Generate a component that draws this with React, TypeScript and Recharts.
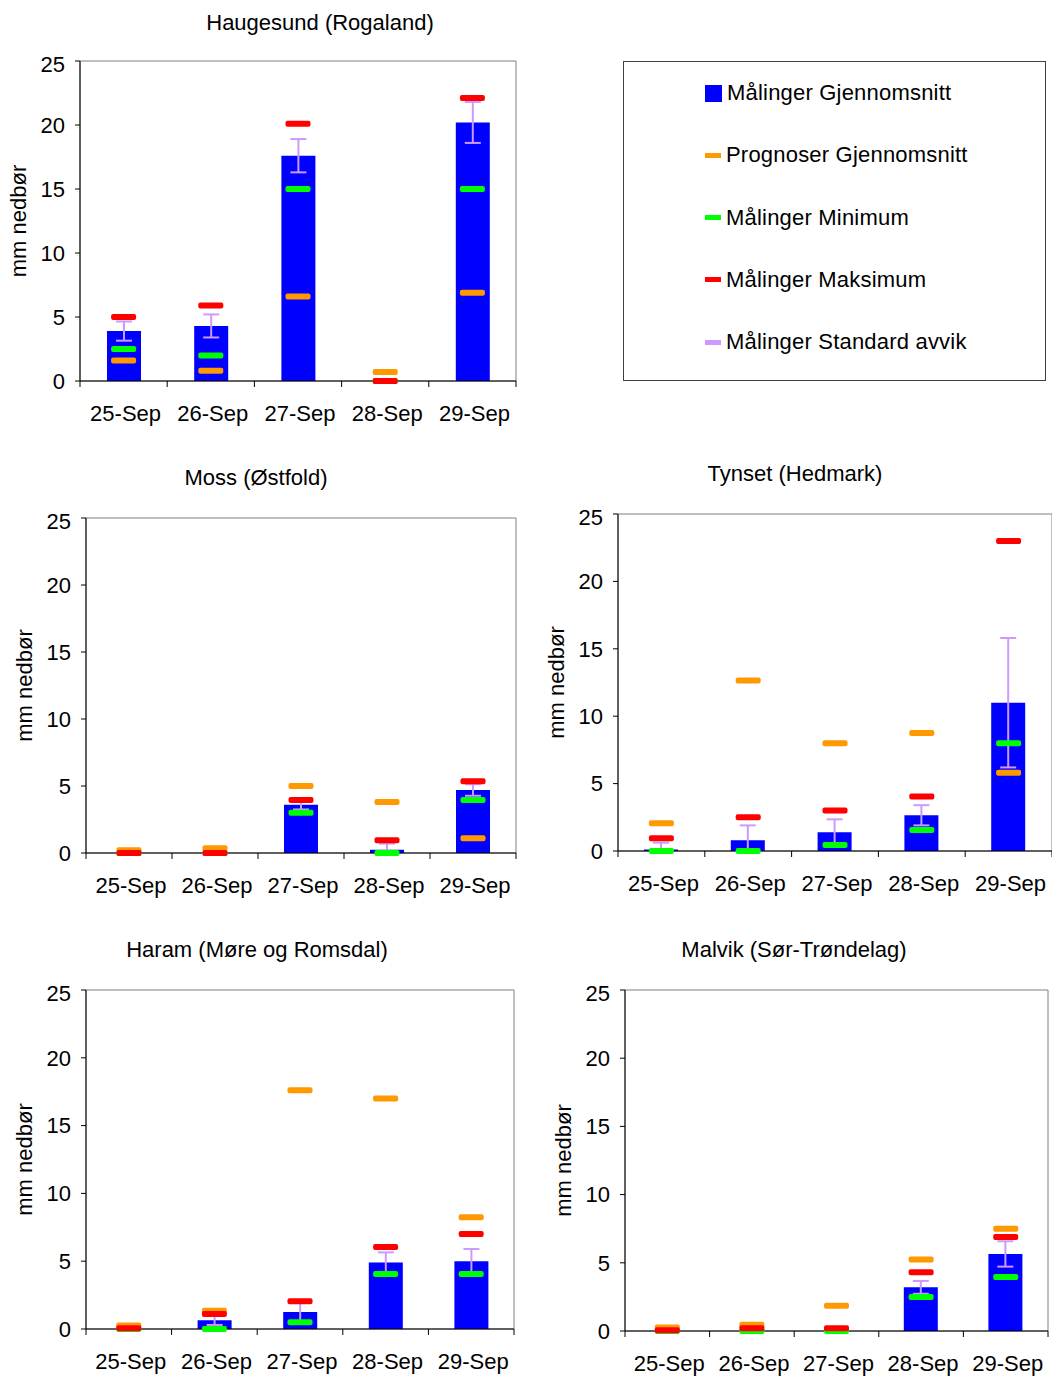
import { ComposedChart, Bar, ErrorBar, Scatter, XAxis, YAxis, ReferenceArea } from "recharts";

const days = ["25-Sep", "26-Sep", "27-Sep", "28-Sep", "29-Sep"];
const yTicks = [0, 5, 10, 15, 20, 25];

// Haugesund (Rogaland)
const haugesundMean = [3.9, 4.3, 17.6, 0, 20.2];
const haugesundFcst = [1.6, 0.8, 6.6, 0.7, 6.9];
const haugesundMin = [2.5, 2.0, 15.0, 0, 15.0];
const haugesundMax = [5.0, 5.9, 20.1, 0, 22.1];
const haugesundStd = [0.75, 0.9, 1.3, null, 1.6];

// Moss (Østfold)
const mossMean = [0, 0, 3.6, 0.25, 4.7];
const mossFcst = [0.2, 0.35, 5.0, 3.8, 1.1];
const mossMin = [0, 0, 3.0, 0, 3.95];
const mossMax = [0, 0, 3.95, 0.95, 5.35];
const mossStd = [null, null, 0.35, 0.45, 0.43];

// Tynset (Hedmark)
const tynsetMean = [0.12, 0.8, 1.4, 2.65, 11.0];
const tynsetFcst = [2.05, 12.65, 8.0, 8.75, 5.8];
const tynsetMin = [0, 0, 0.45, 1.55, 8.0];
const tynsetMax = [0.95, 2.5, 3.0, 4.05, 23.0];
const tynsetStd = [0.5, 1.1, 0.95, 0.75, 4.8];

// Haram (Møre og Romsdal)
const haramMean = [0, 0.65, 1.25, 4.9, 5.0];
const haramFcst = [0.25, 1.35, 17.6, 17.0, 8.25];
const haramMin = [0, 0, 0.5, 4.05, 4.05];
const haramMax = [0.05, 1.1, 2.05, 6.05, 7.0];
const haramStd = [null, 0.35, 0.7, 0.75, 0.9];

// Malvik (Sør-Trøndelag)
const malvikMean = [0, 0, 0, 3.2, 5.65];
const malvikFcst = [0.25, 0.45, 1.85, 5.25, 7.5];
const malvikMin = [0, 0, 0, 2.5, 3.95];
const malvikMax = [0.05, 0.2, 0.2, 4.3, 6.9];
const malvikStd = [null, null, null, 0.47, 0.93];

const BLUE = "#0000FF";
const ORANGE = "#FF9900";
const GREEN = "#00FF00";
const RED = "#FF0000";
const PURPLE = "#CC99FF";
const FONT = "'Liberation Sans', Arial, sans-serif";

const legendItems = [
  { label: "Målinger Gjennomsnitt", color: BLUE, square: true },
  { label: "Prognoser Gjennomsnitt", color: ORANGE, square: false },
  { label: "Målinger Minimum", color: GREEN, square: false },
  { label: "Målinger Maksimum", color: RED, square: false },
  { label: "Målinger Standard avvik", color: PURPLE, square: false },
];

const panels = [
  {
    title: "Haugesund (Rogaland)", titleX: 320, titleY: 23,
    plot: { x: 80, y: 61, w: 436, h: 320 },
    mean: haugesundMean, fcst: haugesundFcst, min: haugesundMin, max: haugesundMax, std: haugesundStd,
  },
  {
    title: "Moss (Østfold)", titleX: 256, titleY: 478,
    plot: { x: 86, y: 518, w: 430, h: 335 },
    mean: mossMean, fcst: mossFcst, min: mossMin, max: mossMax, std: mossStd,
  },
  {
    title: "Tynset (Hedmark)", titleX: 795, titleY: 474,
    plot: { x: 618, y: 514, w: 434, h: 337 },
    mean: tynsetMean, fcst: tynsetFcst, min: tynsetMin, max: tynsetMax, std: tynsetStd,
  },
  {
    title: "Haram (Møre og Romsdal)", titleX: 257, titleY: 950,
    plot: { x: 86, y: 990, w: 428, h: 339 },
    mean: haramMean, fcst: haramFcst, min: haramMin, max: haramMax, std: haramStd,
  },
  {
    title: "Malvik (Sør-Trøndelag)", titleX: 794, titleY: 950,
    plot: { x: 625, y: 990, w: 423, h: 341 },
    mean: malvikMean, fcst: malvikFcst, min: malvikMin, max: malvikMax, std: malvikStd,
  },
];

const dash = (color: string) => (props: any) => {
  const { cx, cy } = props;
  if (cx == null || cy == null) return <g />;
  return <rect x={cx - 12.5} y={cy - 3} width={25} height={6} rx={2} fill={color} />;
};

// error bar stops at the axis, like the original
const stdRange = (row: any) => (row.std == null ? null : [Math.min(row.std, row.mean), row.std]);

function DayTick(props: any) {
  const { x, y, payload, index, band } = props;
  return (
    <g>
      <line x1={x - band / 2} x2={x - band / 2} y1={y} y2={y + 6} stroke="#000" />
      {index === days.length - 1 && (
        <line x1={x + band / 2} x2={x + band / 2} y1={y} y2={y + 6} stroke="#000" />
      )}
      <text x={x + 2} y={y + 40} textAnchor="middle" fontSize={22} fill="#000" fontFamily={FONT}>
        {payload.value}
      </text>
    </g>
  );
}

function YLabel(props: any) {
  const { x, y, height } = props.viewBox;
  const cx = x + 18;
  const cy = y + height / 2;
  return (
    <text
      x={cx}
      y={cy}
      transform={`rotate(-90 ${cx} ${cy})`}
      textAnchor="middle"
      dominantBaseline="central"
      fontSize={22}
      fill="#000"
      fontFamily={FONT}
    >
      mm nedbør
    </text>
  );
}

function Panel({ p }: { p: (typeof panels)[number] }) {
  const rows = days.map((day, i) => ({
    day,
    mean: p.mean[i],
    fcst: p.fcst[i],
    min: p.min[i],
    max: p.max[i],
    std: p.std[i],
  }));
  const band = p.plot.w / days.length;
  const width = 80 + p.plot.w + 10;
  const height = 10 + p.plot.h + 50;
  return (
    <>
      <div
        style={{
          position: "absolute",
          left: p.titleX - 200,
          top: p.titleY - 13,
          width: 400,
          lineHeight: "26px",
          fontSize: 22,
          textAlign: "center",
        }}
      >
        {p.title}
      </div>
      <div style={{ position: "absolute", left: p.plot.x - 80, top: p.plot.y - 10 }}>
        <ComposedChart width={width} height={height} data={rows} margin={{ top: 10, right: 10, bottom: 0, left: 0 }}>
          <ReferenceArea y1={0} y2={25} fill="none" stroke="#808080" strokeWidth={1} ifOverflow="visible" />
          <XAxis
            dataKey="day"
            interval={0}
            height={50}
            tickLine={false}
            tickSize={0}
            tickMargin={0}
            axisLine={{ stroke: "#000" }}
            tick={(t: any) => <DayTick {...t} band={band} />}
          />
          <YAxis
            domain={[0, 25]}
            ticks={yTicks}
            width={80}
            tickSize={5}
            tickMargin={10}
            axisLine={{ stroke: "#000" }}
            tickLine={{ stroke: "#000" }}
            tick={{ fontSize: 22, fill: "#000", fontFamily: FONT }}
            label={(l: any) => <YLabel {...l} />}
          />
          <YAxis yAxisId="bars" domain={[0, 25]} allowDataOverflow hide />
          <Bar yAxisId="bars" dataKey="mean" fill={BLUE} barSize={34} isAnimationActive={false}>
            <ErrorBar dataKey={stdRange} direction="y" width={8} stroke={PURPLE} strokeWidth={2} />
          </Bar>
          <Scatter dataKey="fcst" shape={dash(ORANGE)} isAnimationActive={false} />
          <Scatter dataKey="min" shape={dash(GREEN)} isAnimationActive={false} />
          <Scatter dataKey="max" shape={dash(RED)} isAnimationActive={false} />
        </ComposedChart>
      </div>
    </>
  );
}

function LegendBox() {
  return (
    <div
      style={{
        position: "absolute",
        left: 623,
        top: 61,
        width: 421,
        height: 318,
        border: "1px solid #404040",
      }}
    >
      {legendItems.map((item, i) => (
        <div
          key={item.label}
          style={{
            position: "absolute",
            left: 81,
            top: 31 + i * 62.3 - 13,
            height: 26,
            display: "flex",
            alignItems: "center",
            fontSize: 22,
            letterSpacing: 0.2,
            whiteSpace: "nowrap",
          }}
        >
          <span
            style={{
              display: "inline-block",
              width: item.square ? 17 : 16,
              height: item.square ? 17 : 5,
              background: item.color,
              marginRight: 5,
            }}
          />
          {item.label}
        </div>
      ))}
    </div>
  );
}

export default function App() {
  return (
    <div
      style={{
        position: "absolute",
        left: 0,
        top: 0,
        width: 1052,
        height: 1378,
        overflow: "hidden",
        background: "#fff",
        fontFamily: FONT,
        color: "#000",
      }}
    >
      {panels.map((p) => (
        <Panel key={p.title} p={p} />
      ))}
      <LegendBox />
    </div>
  );
}
